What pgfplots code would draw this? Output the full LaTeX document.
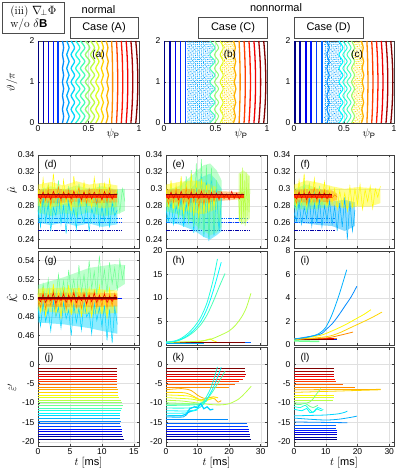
\documentclass[border=0pt]{standalone}
\usepackage{pgfplots}
\pgfplotsset{compat=1.18}
\usepackage{pgfplotstable}
\usetikzlibrary{patterns.meta}
\usepackage{fontspec}
\setmainfont{Liberation Sans}
\newfontfamily\lmr{Latin Modern Roman}

\definecolor{j0}{rgb}{0,0,0.5}
\definecolor{j1}{rgb}{0,0,0.65}
\definecolor{j2}{rgb}{0,0,0.8}
\definecolor{j3}{rgb}{0,0,0.94}
\definecolor{j4}{rgb}{0,0.09,1}
\definecolor{j5}{rgb}{0,0.24,1}
\definecolor{j6}{rgb}{0,0.39,1}
\definecolor{j7}{rgb}{0,0.54,1}
\definecolor{j8}{rgb}{0,0.69,1}
\definecolor{j9}{rgb}{0,0.83,1}
\definecolor{j10}{rgb}{0,0.98,1}
\definecolor{j11}{rgb}{0.13,1,0.87}
\definecolor{j12}{rgb}{0.28,1,0.72}
\definecolor{j13}{rgb}{0.43,1,0.57}
\definecolor{j14}{rgb}{0.57,1,0.43}
\definecolor{j15}{rgb}{0.72,1,0.28}
\definecolor{j16}{rgb}{0.87,1,0.13}
\definecolor{j17}{rgb}{1,0.98,0}
\definecolor{j18}{rgb}{1,0.83,0}
\definecolor{j19}{rgb}{1,0.69,0}
\definecolor{j20}{rgb}{1,0.54,0}
\definecolor{j21}{rgb}{1,0.39,0}
\definecolor{j22}{rgb}{1,0.24,0}
\definecolor{j23}{rgb}{1,0.09,0}
\definecolor{j24}{rgb}{0.94,0,0}
\definecolor{j25}{rgb}{0.8,0,0}
\definecolor{j26}{rgb}{0.65,0,0}
\definecolor{j27}{rgb}{0.5,0,0}

\newcommand{\hl}[3]{\addplot[#1] coordinates {(0,#2) (#3,#2)};}

% Poincare curves: theta/pi and psi_P of each curve
\pgfplotstableread{
th a0 a1 a2 a3 a4 a5 a6 a7 a8 a9 a10 a11 a12 a13 a14 a15 a16 a17 a18 a19 a20 b1 b2 b3 c0 c1 c2 c3 c4
0      0.006 0.053 0.101 0.150 0.199 0.242 0.284 0.328 0.373 0.420 0.469 0.520 0.572 0.626 0.674  0.729  0.777  0.825  0.873  0.920  0.968  0.445 0.490 0.545 0.328 0.450 0.488 0.530 0.575
0.1667 0.006 0.053 0.101 0.150 0.199 0.254 0.308 0.362 0.415 0.464 0.513 0.560 0.604 0.648 0.6925 0.732  0.781  0.829  0.878  0.9255 0.974  0.495 0.530 0.575 0.352 0.490 0.532 0.570 0.605
0.3333 0.006 0.053 0.101 0.150 0.199 0.242 0.284 0.328 0.373 0.420 0.469 0.520 0.572 0.626 0.6785 0.735  0.784  0.833  0.882  0.930  0.979  0.445 0.490 0.545 0.328 0.450 0.488 0.530 0.575
0.5    0.006 0.053 0.101 0.150 0.199 0.254 0.308 0.362 0.415 0.464 0.513 0.560 0.604 0.648 0.696  0.7365 0.786  0.8355 0.885  0.9335 0.983  0.495 0.530 0.575 0.352 0.490 0.532 0.570 0.605
0.6667 0.006 0.053 0.101 0.150 0.199 0.242 0.284 0.328 0.373 0.420 0.469 0.520 0.572 0.626 0.681  0.738  0.788  0.837  0.887  0.936  0.986  0.445 0.490 0.545 0.328 0.450 0.488 0.530 0.575
0.8333 0.006 0.053 0.101 0.150 0.199 0.254 0.308 0.362 0.415 0.464 0.513 0.560 0.604 0.648 0.698  0.739  0.789  0.839  0.889  0.9375 0.9875 0.495 0.530 0.575 0.352 0.490 0.532 0.570 0.605
1      0.006 0.053 0.101 0.150 0.199 0.242 0.284 0.328 0.373 0.420 0.469 0.520 0.572 0.626 0.682  0.739  0.789  0.839  0.889  0.938  0.988  0.445 0.490 0.545 0.328 0.450 0.488 0.530 0.575
1.1667 0.006 0.053 0.101 0.150 0.199 0.254 0.308 0.362 0.415 0.464 0.513 0.560 0.604 0.648 0.698  0.739  0.789  0.839  0.889  0.9375 0.9875 0.495 0.530 0.575 0.352 0.490 0.532 0.570 0.605
1.3333 0.006 0.053 0.101 0.150 0.199 0.242 0.284 0.328 0.373 0.420 0.469 0.520 0.572 0.626 0.681  0.738  0.788  0.837  0.887  0.936  0.986  0.445 0.490 0.545 0.328 0.450 0.488 0.530 0.575
1.5    0.006 0.053 0.101 0.150 0.199 0.254 0.308 0.362 0.415 0.464 0.513 0.560 0.604 0.648 0.696  0.7365 0.786  0.8355 0.885  0.9335 0.983  0.495 0.530 0.575 0.352 0.490 0.532 0.570 0.605
1.6667 0.006 0.053 0.101 0.150 0.199 0.242 0.284 0.328 0.373 0.420 0.469 0.520 0.572 0.626 0.6785 0.735  0.784  0.833  0.882  0.930  0.979  0.445 0.490 0.545 0.328 0.450 0.488 0.530 0.575
1.8333 0.006 0.053 0.101 0.150 0.199 0.254 0.308 0.362 0.415 0.464 0.513 0.560 0.604 0.648 0.6925 0.732  0.781  0.829  0.878  0.9255 0.974  0.495 0.530 0.575 0.352 0.490 0.532 0.570 0.605
2      0.006 0.053 0.101 0.150 0.199 0.242 0.284 0.328 0.373 0.420 0.469 0.520 0.572 0.626 0.674  0.729  0.777  0.825  0.873  0.920  0.968  0.445 0.490 0.545 0.328 0.450 0.488 0.530 0.575
}\tabP

\pgfplotstableread{
t cy gr ye or rd
0.0 0.275 0.290 0.300 0.292 0.293
0.4 0.255 0.272 0.280 0.283 0.288
0.8 0.290 0.300 0.312 0.298 0.296
1.2 0.262 0.278 0.285 0.286 0.289
1.6 0.283 0.305 0.305 0.300 0.295
2.0 0.250 0.268 0.276 0.281 0.287
2.4 0.278 0.295 0.318 0.296 0.297
2.8 0.268 0.281 0.288 0.288 0.290
3.2 0.295 0.310 0.302 0.302 0.294
3.6 0.258 0.275 0.279 0.284 0.288
4.0 0.280 0.298 0.310 0.297 0.296
4.4 0.247 0.270 0.284 0.287 0.289
4.8 0.285 0.302 0.298 0.299 0.295
5.2 0.263 0.285 0.274 0.282 0.288
5.6 0.276 0.292 0.315 0.295 0.297
6.0 0.252 0.266 0.290 0.289 0.290
6.4 0.290 0.306 0.303 0.301 0.294
6.8 0.270 0.280 0.282 0.285 0.287
7.2 0.260 0.296 0.308 0.297 0.296
7.6 0.282 0.274 0.286 0.283 0.289
8.0 0.249 0.300 0.296 0.300 0.295
8.4 0.277 0.283 0.278 0.288 0.288
8.8 0.265 0.290 0.313 0.294 0.296
9.2 0.288 0.271 0.289 0.282 0.290
9.6 0.256 0.304 0.301 0.299 0.294
10.0 0.279 0.279 0.281 0.286 0.287
10.4 0.262 0.297 0.306 0.296 0.297
10.8 0.292 0.268 0.283 0.284 0.289
11.2 0.254 0.301 0.311 0.301 0.295
11.6 0.284 0.286 0.287 0.287 0.288
12.0 0.268 0.276 0.294 0.292 0.294
12.4 0.275 0.298 0.299 0.295 0.293
12.8 nan 0.272 nan nan nan
13.2 nan 0.300 nan nan nan
13.6 nan 0.285 nan nan nan
}\tabD

\pgfplotstableread{
t cy gr ye or rd
0.0 0.275 0.290 0.300 0.292 0.293
0.8 0.262 0.275 0.280 0.282 0.288
1.6 0.285 0.302 0.310 0.298 0.296
2.4 0.258 0.272 0.276 0.284 0.289
3.2 0.280 0.298 0.305 0.300 0.295
4.0 0.266 0.265 0.278 0.281 0.287
4.8 0.290 0.310 0.315 0.297 0.297
5.6 0.255 0.262 0.270 0.283 0.290
6.4 0.283 0.315 0.308 0.301 0.294
7.2 0.262 0.258 0.275 0.280 0.288
8.0 0.298 0.322 0.318 0.299 0.296
8.8 0.248 0.255 0.268 0.284 0.289
9.6 0.305 0.330 0.310 0.296 0.295
10.4 0.252 0.250 0.265 0.278 0.288
11.2 0.318 0.335 0.312 0.298 0.297
12.0 0.243 0.245 0.270 0.282 0.290
12.8 0.310 0.328 0.305 0.295 0.294
13.6 0.238 0.242 0.275 0.283 0.287
14.4 0.322 0.325 0.300 0.294 0.296
15.2 0.245 0.250 0.280 0.286 0.289
16.0 0.300 0.310 0.295 0.293 0.295
16.8 0.250 0.260 nan 0.287 0.288
17.6 0.290 0.295 nan 0.294 0.296
18.4 nan nan nan 0.288 0.290
19.2 nan nan nan 0.292 0.294
20.0 nan nan nan 0.289 0.287
20.8 nan nan nan 0.293 0.297
21.6 nan nan nan 0.288 0.289
22.4 nan nan nan 0.294 0.295
23.2 nan nan nan 0.289 0.288
24.0 nan nan nan 0.292 0.294
24.8 nan nan nan 0.290 0.293
}\tabE

\pgfplotstableread{
t cy gr ye or rd
0.0 0.272 0.290 0.298 0.292 0.293
0.8 0.262 0.275 0.280 0.283 0.288
1.6 0.285 0.300 0.310 0.298 0.296
2.4 0.258 0.278 0.283 0.286 0.289
3.2 0.278 0.310 0.318 0.300 0.295
4.0 0.265 0.272 0.278 0.282 0.287
4.8 0.290 0.305 0.305 0.296 0.297
5.6 0.256 0.280 0.284 0.288 0.290
6.4 0.282 0.298 0.312 0.301 0.294
7.2 0.260 0.275 0.280 0.284 0.288
8.0 0.288 0.302 0.300 0.297 0.296
8.8 0.255 0.280 0.285 0.287 0.289
9.6 0.280 0.295 0.308 0.299 0.295
10.4 0.262 0.285 0.279 0.283 0.288
11.2 0.286 0.292 0.302 0.295 0.294
12.0 0.258 nan 0.283 0.289 0.292
12.8 0.279 nan 0.300 0.293 nan
13.6 0.250 nan 0.276 0.290 nan
14.4 0.283 nan 0.298 nan nan
15.2 0.255 nan 0.280 nan nan
16.0 0.290 nan 0.295 nan nan
16.8 0.240 nan 0.274 nan nan
17.6 0.285 nan 0.303 nan nan
18.4 0.250 nan 0.278 nan nan
19.2 0.275 nan 0.300 nan nan
20.0 nan nan 0.282 nan nan
20.8 nan nan 0.305 nan nan
21.6 nan nan 0.276 nan nan
22.4 nan nan 0.299 nan nan
23.2 nan nan 0.285 nan nan
24.0 nan nan 0.303 nan nan
24.8 nan nan 0.277 nan nan
25.6 nan nan 0.300 nan nan
26.4 nan nan 0.290 nan nan
27.2 nan nan 0.303 nan nan
}\tabF

\pgfplotstableread{
t cy gr ye or rd
0.0 0.490 0.505 0.505 0.500 0.500
0.4 0.470 0.490 0.485 0.490 0.496
0.8 0.495 0.515 0.512 0.506 0.504
1.2 0.475 0.495 0.480 0.488 0.495
1.6 0.488 0.520 0.508 0.503 0.503
2.0 0.465 0.492 0.490 0.492 0.497
2.4 0.497 0.510 0.515 0.508 0.505
2.8 0.480 0.498 0.483 0.489 0.494
3.2 0.490 0.525 0.506 0.502 0.502
3.6 0.468 0.500 0.478 0.491 0.497
4.0 0.495 0.518 0.510 0.507 0.504
4.4 0.478 0.494 0.488 0.488 0.495
4.8 0.487 0.530 0.514 0.504 0.503
5.2 0.460 0.505 0.482 0.493 0.496
5.6 0.493 0.520 0.507 0.508 0.505
6.0 0.474 0.498 0.490 0.490 0.495
6.4 0.489 0.535 0.512 0.503 0.502
6.8 0.466 0.506 0.480 0.489 0.497
7.2 0.496 0.525 0.505 0.506 0.504
7.6 0.480 0.500 0.486 0.492 0.494
8.0 0.485 0.540 0.510 0.505 0.503
8.4 0.462 0.510 0.479 0.488 0.496
8.8 0.494 0.528 0.508 0.507 0.505
9.2 0.476 0.503 0.489 0.490 0.495
9.6 0.490 0.545 0.513 0.503 0.503
10.0 0.470 0.512 0.484 0.491 0.497
10.4 0.492 0.530 0.506 0.506 0.504
10.8 0.455 0.505 0.478 0.489 0.495
11.2 0.488 0.538 0.510 0.504 0.502
11.6 0.452 0.515 0.490 0.492 0.496
12.0 0.490 0.532 0.505 0.505 0.503
12.4 0.472 0.508 0.500 0.498 0.500
12.8 nan 0.540 nan nan nan
13.2 nan 0.520 nan nan nan
13.6 nan 0.535 nan nan nan
}\tabG

\tikzset{plab/.style={anchor=north west, xshift=3pt, yshift=-2pt, font=\fontsize{10}{12}\selectfont}}

\pgfplotsset{
  base/.style={scale only axis, anchor=south west,
    axis line style={black!75, line width=0.5pt},
    tick style={black!75, line width=0.4pt},
    major tick length=2.2pt,
    grid=major, major grid style={black!12, line width=0.3pt},
    tick label style={font=\fontsize{8.5}{9}\selectfont},
    xticklabel style={inner sep=1pt, yshift=-1pt},
    /pgf/number format/assume math mode=true,
    scaled ticks=false, unbounded coords=jump,
    every axis plot/.append style={mark=none}},
  row1/.style={base, ymin=0, ymax=2, xmin=0, xmax=1, height=82pt,
    xtick={0,0.5,1}, ytick={0,1,2},
    every axis plot/.append style={smooth, line width=1.3pt}},
  row2/.style={base, ymin=0.23, ymax=0.34, height=93pt,
    ytick={0.24,0.26,0.28,0.3,0.32,0.34}, xticklabels={},
    yticklabel style={/pgf/number format/fixed, /pgf/number format/precision=2},
    every axis plot/.append style={line width=0.5pt}},
  row3/.style={base, height=94pt, xticklabels={},
    every axis plot/.append style={line width=0.8pt}},
  row4/.style={base, height=98.5pt, ymin=-21.1, ymax=4.3, ytick={-20,-15,-10,-5,0},
    every axis plot/.append style={line width=0.8pt}},
  c1/.style={xmin=0, xmax=15.8, width=101pt, xtick={0,5,10,15}},
  c2/.style={xmin=0, xmax=32, width=101pt, xtick={0,10,20,30}},
  c3/.style={xmin=0, xmax=31.5, width=100pt, xtick={0,10,20,30}},
  band/.style={draw=none, sharp plot, fill=#1, fill opacity=0.45},
}

\begin{document}
\begin{tikzpicture}
\useasboundingbox (0pt,0pt) rectangle (399pt,471pt);

% ---------------- (a)
\begin{axis}[row1, at={(38pt,348pt)}, width=101pt]
\addplot[j0] table[x=a0,y=th]{\tabP};
\addplot[j1] table[x=a1,y=th]{\tabP};
\addplot[j3] table[x=a2,y=th]{\tabP};
\addplot[j4] table[x=a3,y=th]{\tabP};
\addplot[j5] table[x=a4,y=th]{\tabP};
\addplot[j7] table[x=a5,y=th]{\tabP};
\addplot[j8] table[x=a6,y=th]{\tabP};
\addplot[j9] table[x=a7,y=th]{\tabP};
\addplot[j11] table[x=a8,y=th]{\tabP};
\addplot[j12] table[x=a9,y=th]{\tabP};
\addplot[j14] table[x=a10,y=th]{\tabP};
\addplot[j15] table[x=a11,y=th]{\tabP};
\addplot[j16] table[x=a12,y=th]{\tabP};
\addplot[j18] table[x=a13,y=th]{\tabP};
\addplot[j19] table[x=a14,y=th]{\tabP};
\addplot[j20] table[x=a15,y=th]{\tabP};
\addplot[j22] table[x=a16,y=th]{\tabP};
\addplot[j23] table[x=a17,y=th]{\tabP};
\addplot[j24] table[x=a18,y=th]{\tabP};
\addplot[j26] table[x=a19,y=th]{\tabP};
\addplot[j27] table[x=a20,y=th]{\tabP};
\node[font=\fontsize{10}{12}\selectfont] at (axis cs:0.6,1.65) {(a)};
\end{axis}

% ---------------- (b)
\begin{axis}[row1, at={(164pt,348pt)}, width=103pt]
\addplot[draw=none, sharp plot, pattern={Dots[distance=2.1pt,radius=0.55pt]}, pattern color=j8]
  coordinates {(0.225,0) (0.225,2) (0.445,2) (0.495,1.8333) (0.445,1.6667) (0.495,1.5) (0.445,1.3333) (0.495,1.1667) (0.445,1) (0.495,0.8333) (0.445,0.6667) (0.495,0.5) (0.445,0.3333) (0.495,0.1667) (0.445,0)} -- cycle;
\addplot[draw=none, sharp plot, pattern={Dots[distance=2.6pt,radius=0.5pt,angle=35,xshift=0.8pt]}, pattern color=j7]
  coordinates {(0.225,0) (0.225,2) (0.445,2) (0.495,1.8333) (0.445,1.6667) (0.495,1.5) (0.445,1.3333) (0.495,1.1667) (0.445,1) (0.495,0.8333) (0.445,0.6667) (0.495,0.5) (0.445,0.3333) (0.495,0.1667) (0.445,0)} -- cycle;
\addplot[draw=none, sharp plot, pattern={Dots[distance=2.1pt,radius=0.55pt]}, pattern color=j17]
  coordinates {(0.545,0) (0.575,0.1667) (0.545,0.3333) (0.575,0.5) (0.545,0.6667) (0.575,0.8333) (0.545,1) (0.575,1.1667) (0.545,1.3333) (0.575,1.5) (0.545,1.6667) (0.575,1.8333) (0.545,2) (0.685,2) (0.685,0)} -- cycle;
\addplot[draw=none, sharp plot, pattern={Dots[distance=2.6pt,radius=0.5pt,angle=35,xshift=0.8pt]}, pattern color=j19]
  coordinates {(0.545,0) (0.575,0.1667) (0.545,0.3333) (0.575,0.5) (0.545,0.6667) (0.575,0.8333) (0.545,1) (0.575,1.1667) (0.545,1.3333) (0.575,1.5) (0.545,1.6667) (0.575,1.8333) (0.545,2) (0.685,2) (0.685,0)} -- cycle;
\addplot[j0] coordinates {(0.007,0) (0.007,2)};
\addplot[j1] coordinates {(0.058,0) (0.058,2)};
\addplot[j3] coordinates {(0.11,0) (0.11,2)};
\addplot[j4] coordinates {(0.16,0) (0.16,2)};
\addplot[j5] coordinates {(0.21,0) (0.21,2)};
\addplot[j12, line width=1pt] table[x=b1,y=th]{\tabP};
\addplot[j14, line width=1pt] table[x=b2,y=th]{\tabP};
\addplot[j16, line width=1pt] table[x=b3,y=th]{\tabP};
\addplot[j19] table[x=a14,y=th]{\tabP};
\addplot[j20] table[x=a15,y=th]{\tabP};
\addplot[j22] table[x=a16,y=th]{\tabP};
\addplot[j23] table[x=a17,y=th]{\tabP};
\addplot[j24] table[x=a18,y=th]{\tabP};
\addplot[j26] table[x=a19,y=th]{\tabP};
\addplot[j27] table[x=a20,y=th]{\tabP};
\node[font=\fontsize{10}{12}\selectfont] at (axis cs:0.64,1.65) {(b)};
\end{axis}

% ---------------- (c)
\begin{axis}[row1, at={(294pt,348pt)}, width=100pt]
\addplot[draw=none, sharp plot, pattern={Dots[distance=2.1pt,radius=0.55pt]}, pattern color=j8]
  coordinates {(0.30,0) (0.30,2) (0.45,2) (0.49,1.8333) (0.45,1.6667) (0.49,1.5) (0.45,1.3333) (0.49,1.1667) (0.45,1) (0.49,0.8333) (0.45,0.6667) (0.49,0.5) (0.45,0.3333) (0.49,0.1667) (0.45,0)} -- cycle;
\addplot[draw=none, sharp plot, pattern={Dots[distance=2.6pt,radius=0.5pt,angle=35,xshift=0.8pt]}, pattern color=j7]
  coordinates {(0.30,0) (0.30,2) (0.45,2) (0.49,1.8333) (0.45,1.6667) (0.49,1.5) (0.45,1.3333) (0.49,1.1667) (0.45,1) (0.49,0.8333) (0.45,0.6667) (0.49,0.5) (0.45,0.3333) (0.49,0.1667) (0.45,0)} -- cycle;
\addplot[draw=none, sharp plot, pattern={Dots[distance=2.1pt,radius=0.55pt]}, pattern color=j17]
  coordinates {(0.575,0) (0.605,0.1667) (0.575,0.3333) (0.605,0.5) (0.575,0.6667) (0.605,0.8333) (0.575,1) (0.605,1.1667) (0.575,1.3333) (0.605,1.5) (0.575,1.6667) (0.605,1.8333) (0.575,2) (0.68,2) (0.68,0)} -- cycle;
\addplot[draw=none, sharp plot, pattern={Dots[distance=2.6pt,radius=0.5pt,angle=35,xshift=0.8pt]}, pattern color=j19]
  coordinates {(0.575,0) (0.605,0.1667) (0.575,0.3333) (0.605,0.5) (0.575,0.6667) (0.605,0.8333) (0.575,1) (0.605,1.1667) (0.575,1.3333) (0.605,1.5) (0.575,1.6667) (0.605,1.8333) (0.575,2) (0.68,2) (0.68,0)} -- cycle;
\addplot[j0] coordinates {(0.01,0) (0.01,2)};
\addplot[j1] coordinates {(0.06,0) (0.06,2)};
\addplot[j3] coordinates {(0.12,0) (0.12,2)};
\addplot[j4] coordinates {(0.17,0) (0.17,2)};
\addplot[j5] coordinates {(0.225,0) (0.225,2)};
\addplot[j6] coordinates {(0.28,0) (0.28,2)};
\addplot[j7, line width=1pt] table[x=c0,y=th]{\tabP};
\addplot[j10, line width=1pt] table[x=c1,y=th]{\tabP};
\addplot[j11, line width=1pt] table[x=c2,y=th]{\tabP};
\addplot[j12, line width=1pt] table[x=c3,y=th]{\tabP};
\addplot[j14, line width=1pt] table[x=c4,y=th]{\tabP};
\addplot[j19] table[x=a14,y=th]{\tabP};
\addplot[j20] table[x=a15,y=th]{\tabP};
\addplot[j22] table[x=a16,y=th]{\tabP};
\addplot[j23] table[x=a17,y=th]{\tabP};
\addplot[j24] table[x=a18,y=th]{\tabP};
\addplot[j26] table[x=a19,y=th]{\tabP};
\addplot[j27] table[x=a20,y=th]{\tabP};
\node[font=\fontsize{10}{12}\selectfont] at (axis cs:0.63,1.65) {(c)};
\end{axis}

% ---------------- (d)
\begin{axis}[row2, c1, at={(38pt,223pt)}]
\addplot[j1, dash pattern=on 1.5pt off 0.8pt, line width=1pt] coordinates {(0,0.251) (13,0.251)};
\addplot[j5, dash pattern=on 1.5pt off 0.8pt, line width=0.9pt] coordinates {(0,0.2605) (13,0.2605)};
\addplot[j6, dash pattern=on 1.5pt off 0.8pt, line width=0.9pt] coordinates {(0,0.2655) (13,0.2655)};
\addplot[band=j9] coordinates {(0,0.283) (2,0.287) (4,0.282) (6,0.286) (8,0.283) (10,0.287) (12.4,0.284) (12.4,0.258) (10,0.255) (8,0.259) (6,0.256) (4,0.26) (2,0.257) (0,0.26)} -- cycle;
\addplot[band=j13] coordinates {(0,0.298) (2,0.303) (4,0.299) (6,0.304) (8,0.3) (10,0.303) (12.4,0.299) (13.6,0.3) (13.6,0.274) (12.4,0.27) (10,0.268) (8,0.272) (6,0.269) (4,0.271) (2,0.268) (0,0.272)} -- cycle;
\addplot[band=j17] coordinates {(0,0.305) (2,0.308) (4,0.304) (6,0.309) (8,0.305) (10,0.307) (12.4,0.304) (12.4,0.279) (10,0.277) (8,0.28) (6,0.278) (4,0.281) (2,0.278) (0,0.28)} -- cycle;
\addplot[band=j20] coordinates {(0,0.299) (3,0.3) (6,0.298) (9,0.3) (12.4,0.299) (12.4,0.284) (9,0.283) (6,0.285) (3,0.283) (0,0.284)} -- cycle;
\addplot[j9] table[x=t,y=cy]{\tabD};
\addplot[j13] table[x=t,y=gr]{\tabD};
\addplot[j17] table[x=t,y=ye]{\tabD};
\addplot[j20] table[x=t,y=or]{\tabD};
\addplot[j22, line width=3pt] coordinates {(0,0.2915) (12.4,0.2915)};
\addplot[j24] table[x=t,y=rd]{\tabD};
\addplot[j27, line width=1.2pt] coordinates {(0,0.2935) (12.4,0.2935)};
\node[plab] at (rel axis cs:0,1) {(d)};
\end{axis}

% ---------------- (e)
\begin{axis}[row2, c2, at={(166pt,223pt)}]
\addplot[j1, dash pattern=on 1.5pt off 0.8pt, line width=1pt] coordinates {(0,0.251) (26.8,0.251)};
\addplot[j5, dash pattern=on 1.5pt off 0.8pt, line width=0.9pt] coordinates {(0,0.2605) (26,0.2605)};
\addplot[j6, dash pattern=on 1.5pt off 0.8pt, line width=0.9pt] coordinates {(0,0.2655) (26,0.2655)};
\addplot[band=j9] coordinates {(0,0.287) (4,0.29) (8,0.3) (10,0.31) (12,0.315) (14,0.318) (16,0.31) (17.6,0.3) (17.6,0.25) (16,0.245) (14,0.24) (12,0.243) (10,0.248) (8,0.252) (4,0.258) (0,0.26)} -- cycle;
\addplot[band=j13] coordinates {(0,0.298) (4,0.303) (8,0.315) (10,0.322) (12,0.328) (14,0.33) (16,0.322) (17.6,0.31) (17.6,0.255) (16,0.248) (14,0.245) (12,0.25) (10,0.255) (8,0.262) (4,0.27) (0,0.273)} -- cycle;
\addplot[band=j15] coordinates {(23,0.318) (24.5,0.322) (26.6,0.315) (26.6,0.265) (24.5,0.258) (23,0.262)} -- cycle;
\addplot[band=j17] coordinates {(0,0.305) (4,0.308) (8,0.31) (12,0.308) (16,0.302) (16,0.276) (12,0.27) (8,0.272) (4,0.276) (0,0.279)} -- cycle;
\addplot[band=j20] coordinates {(0,0.299) (6,0.3) (12,0.299) (18,0.297) (24.8,0.296) (24.8,0.288) (18,0.286) (12,0.283) (6,0.284) (0,0.284)} -- cycle;
\addplot[j9] table[x=t,y=cy]{\tabE};
\addplot[j13] table[x=t,y=gr]{\tabE};
\addplot[j15] coordinates {(23.0,0.290) (23.3,0.262) (23.6,0.318) (23.9,0.258) (24.2,0.325) (24.5,0.265) (24.8,0.310) (25.1,0.256) (25.4,0.320) (25.7,0.268) (26.0,0.315) (26.3,0.272) (26.6,0.300)};
\addplot[j17] table[x=t,y=ye]{\tabE};
\addplot[j20] table[x=t,y=or]{\tabE};
\addplot[j22, line width=3pt] coordinates {(0,0.2915) (24.8,0.2915)};
\addplot[j24] table[x=t,y=rd]{\tabE};
\addplot[j27, line width=1.2pt] coordinates {(0,0.2935) (24.8,0.2935)};
\node[plab] at (rel axis cs:0,1) {(e)};
\end{axis}

% ---------------- (f)
\begin{axis}[row2, c3, at={(294pt,223pt)}]
\addplot[j1, dash pattern=on 1.5pt off 0.8pt, line width=1pt] coordinates {(0,0.251) (13,0.251)};
\addplot[j5, dash pattern=on 1.5pt off 0.8pt, line width=0.9pt] coordinates {(0,0.2605) (13,0.2605)};
\addplot[j6, dash pattern=on 1.5pt off 0.8pt, line width=0.9pt] coordinates {(0,0.2655) (13,0.2655)};
\addplot[band=j8] coordinates {(0,0.286) (4,0.288) (8,0.287) (12,0.285) (16,0.287) (19.2,0.284) (19.2,0.256) (16,0.25) (12,0.256) (8,0.257) (4,0.259) (0,0.26)} -- cycle;
\addplot[band=j13] coordinates {(0,0.3) (4,0.305) (8,0.3) (11.2,0.297) (11.2,0.278) (8,0.277) (4,0.275) (0,0.277)} -- cycle;
\addplot[band=j17] coordinates {(0,0.305) (4,0.31) (8,0.307) (12,0.303) (16,0.3) (20,0.302) (24,0.301) (27.2,0.3) (27.2,0.283) (24,0.279) (20,0.279) (16,0.277) (12,0.28) (8,0.281) (4,0.28) (0,0.281)} -- cycle;
\addplot[band=j20] coordinates {(0,0.299) (6,0.3) (12,0.298) (13.6,0.294) (13.6,0.287) (12,0.285) (6,0.284) (0,0.284)} -- cycle;
\addplot[j8] table[x=t,y=cy]{\tabF};
\addplot[j13] table[x=t,y=gr]{\tabF};
\addplot[j17] table[x=t,y=ye]{\tabF};
\addplot[j20] table[x=t,y=or]{\tabF};
\addplot[j22, line width=3pt] coordinates {(0,0.2915) (12,0.2915)};
\addplot[j24] table[x=t,y=rd]{\tabF};
\addplot[j27, line width=1.2pt] coordinates {(0,0.2935) (12,0.2935)};
\node[plab] at (rel axis cs:0,1) {(f)};
\end{axis}

% ---------------- (g)
\begin{axis}[row3, c1, at={(38pt,126pt)}, ymin=0.45, ymax=0.55, ytick={0.46,0.48,0.5,0.52,0.54},
  yticklabel style={/pgf/number format/fixed, /pgf/number format/precision=2},
  every axis plot/.append style={line width=0.5pt}]
\addplot[j4, line width=0.8pt] coordinates {(0,0.5) (13.2,0.5)};
\addplot[band=j9] coordinates {(0,0.493) (4,0.494) (8,0.492) (12.4,0.492) (12.4,0.462) (10,0.465) (8,0.468) (4,0.472) (0,0.474)} -- cycle;
\addplot[band=j13] coordinates {(0,0.514) (4,0.522) (8,0.532) (12,0.536) (13.6,0.535) (13.6,0.515) (12,0.508) (8,0.503) (4,0.498) (0,0.495)} -- cycle;
\addplot[band=j17] coordinates {(0,0.51) (4,0.511) (8,0.51) (12.4,0.508) (12.4,0.484) (8,0.483) (4,0.484) (0,0.486)} -- cycle;
\addplot[band=j20] coordinates {(0,0.505) (6,0.506) (12.4,0.505) (12.4,0.491) (6,0.49) (0,0.491)} -- cycle;
\addplot[j9] table[x=t,y=cy]{\tabG};
\addplot[j13] table[x=t,y=gr]{\tabG};
\addplot[j17] table[x=t,y=ye]{\tabG};
\addplot[j20] table[x=t,y=or]{\tabG};
\addplot[j22, line width=2.5pt] coordinates {(0,0.4995) (12.4,0.4995)};
\addplot[j24] table[x=t,y=rd]{\tabG};
\addplot[j27, line width=1.2pt] coordinates {(0,0.5) (12.4,0.5)};
\node[plab] at (rel axis cs:0,1) {(g)};
\end{axis}

% ---------------- (h)
\begin{axis}[row3, c2, at={(166pt,126pt)}, ymin=0, ymax=20, ytick={0,5,10,15,20}]
\addplot[j6] coordinates {(0,0.45) (27,0.45)};
\addplot[j8] coordinates {(0,0.3) (12,0.3)};
\addplot[j17, smooth] coordinates {(0,0.6) (10,0.7) (12.5,1) (14,1.3) (15,0.9) (16,0.7)};
\addplot[j20] coordinates {(0,0.55) (24,0.55)};
\addplot[j24, line width=1.2pt] coordinates {(0,0.45) (25,0.45)};
\addplot[j27, line width=1pt] coordinates {(0,0.55) (25,0.55)};
\addplot[j15, smooth] coordinates {(0,0.5) (10,0.8) (14,1.2) (17,2) (20,3) (22,4.2) (24,6) (25.5,8) (26.9,11)};
\addplot[j12, smooth] coordinates {(0,0.6) (3,0.8) (5,1.2) (7,1.9) (9,2.9) (11,4.3) (13,6.4) (15,9.3) (17,12.6) (18.7,15.2)};
\addplot[j10, smooth] coordinates {(0,0.6) (3,0.8) (5,1.3) (7,2.1) (9,3.3) (11,5) (13,7.7) (15,11.6) (17.5,17.6)};
\addplot[j11, smooth] coordinates {(0,0.6) (3,0.9) (5,1.5) (7,2.5) (9,3.9) (11,5.9) (13,9) (15,14) (16.3,18.3)};
\node[plab] at (rel axis cs:0,1) {(h)};
\end{axis}

% ---------------- (i)
\begin{axis}[row3, c3, at={(294pt,126pt)}, ymin=0, ymax=8, ytick={0,2,4,6,8}]
\addplot[j13, line width=1.5pt] coordinates {(0,0.35) (8,0.3)};
\addplot[j4] coordinates {(0,0.45) (13.5,0.45)};
\addplot[j20] coordinates {(0,0.6) (13.5,0.6)};
\addplot[j24] coordinates {(0,0.55) (12.7,0.55)};
\addplot[j27] coordinates {(0,0.5) (12.7,0.5)};
\addplot[j20, smooth] coordinates {(0,0.5) (10,0.6) (14,0.8) (18.6,1.1)};
\addplot[j18, smooth] coordinates {(0,0.45) (10,0.7) (14,1) (18,1.5) (22,2) (25,2.4) (27.7,2.8)};
\addplot[j17, smooth] coordinates {(0,0.5) (8,0.8) (12,1.2) (16,1.7) (20,2.3) (22,2.6) (24.2,3.0)};
\addplot[j7, smooth] coordinates {(0,0.5) (8,0.9) (10,1.3) (12,1.8) (14,2.5) (16,3.3) (18,4.1) (19.8,5)};
\addplot[j8, smooth] coordinates {(0,0.5) (5,0.7) (8,1) (10,1.5) (12,2.6) (14,4.1) (15.5,5.4) (16.6,6.4)};
\node[plab] at (rel axis cs:0,1) {(i)};
\end{axis}

% ---------------- (j)
\begin{axis}[row4, c1, at={(38pt,25pt)}]
\hl{j27}{-1.20}{12.3}
\hl{j26}{-1.88}{12.3}
\hl{j25}{-2.55}{12.4}
\hl{j24}{-3.22}{12.4}
\hl{j23}{-3.90}{12.4}
\hl{j22}{-4.57}{12.4}
\hl{j21}{-5.25}{12.4}
\hl{j20}{-5.92}{12.4}
\hl{j19}{-6.59}{12.5}
\hl{j18}{-7.27}{12.5}
\hl{j17}{-7.94}{12.5}
\hl{j16}{-8.62}{12.6}
\hl{j15}{-9.29}{13.0}
\hl{j14}{-9.96}{13.2}
\hl{j13}{-10.64}{13.3}
\hl{j12}{-11.31}{13.1}
\hl{j11}{-11.99}{13.0}
\hl{j10}{-12.66}{12.8}
\hl{j9}{-13.33}{12.8}
\hl{j8}{-14.01}{12.9}
\hl{j7}{-14.68}{13.0}
\hl{j6}{-15.36}{12.9}
\hl{j5}{-16.03}{13.0}
\hl{j4}{-16.70}{13.1}
\hl{j3}{-17.38}{13.2}
\hl{j2}{-18.05}{13.2}
\hl{j1}{-18.73}{13.3}
\hl{j0}{-19.40}{13.4}
\node[plab] at (rel axis cs:0,1) {(j)};
\end{axis}

% ---------------- (k)
\begin{axis}[row4, c2, at={(166pt,25pt)}]
\hl{j27}{-1.20}{25}
\hl{j26}{-1.88}{25}
\hl{j25}{-2.55}{25.2}
\hl{j24}{-3.22}{25}
\hl{j23}{-3.90}{24.5}
\hl{j22}{-4.57}{23}
\hl{j21}{-5.25}{22}
\hl{j20}{-5.92}{20}
\addplot[j19, smooth] coordinates {(0,-6.59) (5,-6.3) (8,-6.8) (10,-8) (12,-8.8) (14,-8.6) (15.5,-9) (16.5,-9.8) (17.5,-9.4)};
\addplot[j18, smooth] coordinates {(0,-7.27) (6,-7.4) (9,-8.4) (11,-9.2) (13,-8.8) (15,-8.4) (16.5,-8.7)};
\addplot[j17, smooth] coordinates {(0,-7.94) (7,-8.2) (10,-9) (12,-9.6) (14,-9) (16,-8.6)};
\addplot[j16, smooth] coordinates {(0,-8.62) (8,-9) (11,-9.5) (13,-9.2) (14.5,-8.9)};
\addplot[j15, smooth] coordinates {(0,-9.29) (5,-9.5) (10,-10) (14,-10.4) (17,-10.5) (20,-10.2) (23,-9) (25,-7.5) (27,-5.7)};
\addplot[j14, smooth] coordinates {(0,-9.96) (8,-10.2) (11,-10.4) (12.5,-10.1)};
\addplot[j13, smooth] coordinates {(0,-10.3) (9,-10.3) (11.5,-9.9) (13,-9.5)};
\addplot[j12, smooth] coordinates {(0,-10.64) (9,-10.5) (12,-9.8) (14,-8) (16,-5.5) (17.5,-3.5) (18.7,-1.8)};
\addplot[j11, smooth] coordinates {(0,-11.31) (7,-11.3) (10,-10.8) (12,-9.5) (14,-6.5) (15.3,-3.5) (16.3,-0.7)};
\addplot[j10, smooth] coordinates {(0,-11.99) (8,-12) (11,-11) (13,-9) (15,-6) (16.5,-3) (17.5,-0.8)};
\addplot[j10, smooth] coordinates {(0,-12.66) (6,-12.6) (8,-12.2) (10,-11.8)};
\addplot[j8, smooth] coordinates {(0,-13.6) (5.5,-13.6) (7,-12.5) (8,-12)};
\addplot[j9, line width=1.2pt] coordinates {(0,-13.33) (5,-13.3) (6.5,-12.8) (7.5,-11.5) (9,-11) (10,-11.3) (11,-10.2) (12,-11.5) (13,-11) (14,-11.8) (15,-11.6)};
\hl{j7}{-14.30}{19.7}
\hl{j6}{-15.40}{25.8}
\hl{j5}{-16.05}{26}
\hl{j4}{-16.70}{26.2}
\hl{j3}{-17.38}{26.3}
\hl{j2}{-18.05}{26.5}
\hl{j1}{-18.73}{26.7}
\hl{j0}{-19.40}{27}
\node[plab] at (rel axis cs:0,1) {(k)};
\end{axis}

% ---------------- (l)
\begin{axis}[row4, c3, at={(294pt,25pt)}]
\hl{j27}{-1.20}{12.7}
\hl{j26}{-1.88}{12.7}
\hl{j25}{-2.55}{12.7}
\hl{j24}{-3.22}{12.7}
\hl{j23}{-3.90}{12.8}
\hl{j22}{-4.57}{13.2}
\hl{j21}{-5.25}{15.5}
\hl{j20}{-5.92}{19.3}
\addplot[j19] coordinates {(0,-6.59) (27.3,-6.5)};
\addplot[j18] coordinates {(0,-7.27) (27.3,-6.6)};
\hl{j17}{-7.94}{12.5}
\hl{j16}{-8.62}{12.5}
\hl{j15}{-9.29}{12.3}
\addplot[j14, smooth] coordinates {(0,-9.96) (4,-10) (5.5,-9.4) (7,-7.8) (8.4,-6.3)};
\addplot[j13, smooth] coordinates {(0,-10.3) (2,-10.4) (3.5,-10.1) (5,-10.9) (6,-11.2) (7.5,-10.6)};
\addplot[j11, smooth] coordinates {(0,-10.9) (2,-11.2) (3.5,-10.6) (5,-11.8) (6,-12.4) (7,-11.5) (8.5,-12) (9.2,-11.6)};
\addplot[j10, smooth] coordinates {(0,-11.6) (2.5,-12) (4,-11.4) (5,-12.5) (6.5,-12.2) (7.5,-11.2) (8.7,-11.6)};
\addplot[j9, smooth] coordinates {(0,-13.33) (6,-13.2) (10,-13.1) (14,-12.8) (16,-12.4) (16.8,-12.1)};
\addplot[j8, smooth] coordinates {(0,-13.9) (5,-14.2) (10,-14.4) (14,-14.2) (18,-13.7) (19.8,-13.4)};
\addplot[j7] coordinates {(0,-14.9) (16.8,-15.1)};
\hl{j6}{-15.9}{13.3}
\hl{j5}{-16.5}{13.3}
\hl{j4}{-17.1}{13.4}
\hl{j3}{-17.6}{13.4}
\hl{j2}{-18.2}{13.5}
\hl{j1}{-18.8}{13.5}
\hl{j0}{-19.4}{13.6}
\node[plab] at (rel axis cs:0,1) {(l)};
\end{axis}

% ---------------- labels
\node[rotate=90, inner sep=0pt, font=\fontsize{11}{13}\selectfont] at (12pt,389pt) {$\vartheta/\pi$};
\node[rotate=90, inner sep=0pt, font=\fontsize{11}{13}\selectfont] at (12pt,281pt) {$\hat{\mu}$};
\node[rotate=90, inner sep=0pt, font=\fontsize{11}{13}\selectfont] at (12pt,173pt) {$\hat{\mathcal{K}}$};
\node[rotate=90, inner sep=0pt, font=\fontsize{11}{13}\selectfont] at (12pt,83pt) {$\hat{\varepsilon}'$};
\node[inner sep=0pt, font=\fontsize{11}{13}\selectfont] at (113pt,337pt) {$\psi_{\mathrm{P}}$};
\node[inner sep=0pt, font=\fontsize{11}{13}\selectfont] at (241pt,337pt) {$\psi_{\mathrm{P}}$};
\node[inner sep=0pt, font=\fontsize{11}{13}\selectfont] at (369pt,337pt) {$\psi_{\mathrm{P}}$};
\node[inner sep=0pt, font=\fontsize{11}{13}\selectfont] at (88.5pt,8.5pt) {$t\ [\mathrm{ms}]$};
\node[inner sep=0pt, font=\fontsize{11}{13}\selectfont] at (216.5pt,8.5pt) {$t\ [\mathrm{ms}]$};
\node[inner sep=0pt, font=\fontsize{11}{13}\selectfont] at (344pt,8.5pt) {$t\ [\mathrm{ms}]$};

\node[draw=black!70, line width=0.6pt, anchor=north west, minimum width=62pt, minimum height=31pt,
  inner sep=1.5pt, align=left, font=\lmr\fontsize{11.5}{13}\selectfont] at (2pt,469pt)
  {(iii)~$\nabla_{\!\perp}\Phi$\\w/o $\delta\mathbf{B}$};
\node[font=\fontsize{11}{13}\selectfont] at (98.5pt,461pt) {normal};
\node[font=\fontsize{11}{13}\selectfont] at (276pt,463pt) {nonnormal};
\node[draw=black!70, line width=0.6pt, minimum width=68pt, minimum height=21pt, inner sep=0pt,
  font=\fontsize{11}{13}\selectfont] at (104pt,443.5pt) {Case (A)};
\node[draw=black!70, line width=0.6pt, minimum width=69pt, minimum height=21pt, inner sep=0pt,
  font=\fontsize{11}{13}\selectfont] at (233pt,443.5pt) {Case (C)};
\node[draw=black!70, line width=0.6pt, minimum width=69pt, minimum height=21pt, inner sep=0pt,
  font=\fontsize{11}{13}\selectfont] at (328.5pt,443.5pt) {Case (D)};
\end{tikzpicture}
\end{document}
